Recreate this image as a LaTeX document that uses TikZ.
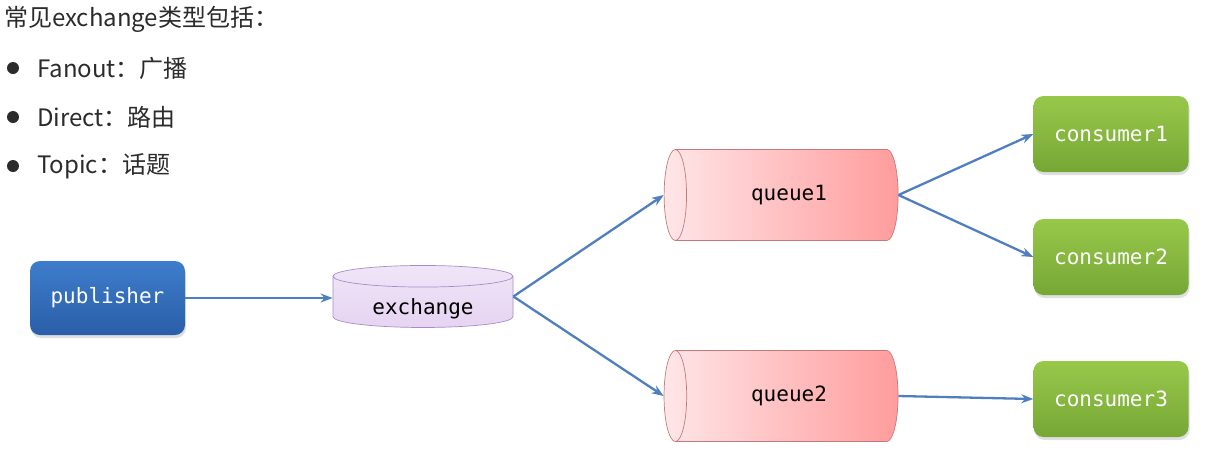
\documentclass[tikz,border=0pt]{standalone}
\usepackage{fontspec}
\newfontfamily\cjk{Noto Sans CJK SC}
\newfontfamily\codefont{DejaVu Sans Mono}
\usetikzlibrary{shapes.geometric,arrows.meta,shadows}

\definecolor{txt}{HTML}{2B2B2B}
\definecolor{flow}{HTML}{4F7FBF}
\definecolor{pubtop}{HTML}{3E7DCB}
\definecolor{pubbot}{HTML}{2A5EA8}
\definecolor{contop}{HTML}{98C84A}
\definecolor{conbot}{HTML}{76A735}
\definecolor{qleft}{HTML}{FFE6E8}
\definecolor{qright}{HTML}{FF9C9C}
\definecolor{qborder}{HTML}{C47A7A}
\definecolor{exfill}{HTML}{E6D4F2}
\definecolor{exborder}{HTML}{A88CC6}

\tikzset{
  codetext/.style={font=\codefont\fontsize{21}{24}\selectfont},
  box/.style={rectangle, rounded corners=10pt, minimum width=155pt,
    text=white, codetext,
    drop shadow={opacity=0.25, shadow xshift=1pt, shadow yshift=-3pt}},
  pubbox/.style={box, minimum height=74pt, top color=pubtop, bottom color=pubbot},
  conbox/.style={box, minimum height=76pt, top color=contop, bottom color=conbot},
  queue/.style={cylinder, shape border rotate=180, aspect=0.85,
    minimum height=234pt, minimum width=91pt, draw=qborder, line width=0.7pt,
    left color=qleft, right color=qright, text=black, codetext},
  exch/.style={cylinder, shape border rotate=90, aspect=0.2,
    minimum height=62pt, minimum width=180pt, draw=exborder, line width=0.7pt,
    top color=exfill!60!white, bottom color=exfill, text=black, codetext,
    text height=22pt, text depth=0pt},
  flowarrow/.style={draw=flow, line width=2.3pt, -{Stealth[length=12pt,width=9pt]}},
  bullet/.style={circle, fill=txt, inner sep=0pt, minimum size=12pt},
  listtext/.style={anchor=west, inner sep=0pt, text=txt, font=\cjk\fontsize{24}{28}\selectfont}
}

\begin{document}
\begin{tikzpicture}[x=1pt, y=-1pt]
  \useasboundingbox (0,0) rectangle (1207,459);

  % heading and list of exchange types
  \node[listtext] (title) at (4,19) {常见exchange类型包括：};
  \node[bullet] (b1) at (13,68) {};
  \node[bullet] (b2) at (13,117) {};
  \node[bullet] (b3) at (13,166) {};
  \node[listtext] (t1) at (37,68) {Fanout：广播};
  \node[listtext] (t2) at (37,117) {Direct：路由};
  \node[listtext] (t3) at (37,166) {Topic：话题};

  % nodes
  \node[pubbox] (pub) at (107.5,298) {publisher};
  \node[exch] (ex) at (423,303.5) {exchange};
  \node[queue] (q1) at (789,195) {queue1};
  \node[queue] (q2) at (789,396) {queue2};
  \node[conbox] (c1) at (1111,134) {consumer1};
  \node[conbox] (c2) at (1111,257) {consumer2};
  \node[conbox] (c3) at (1111,399) {consumer3};

  % message flow
  \draw[flowarrow] (pub.east) -- (pub.east -| ex.west);
  \draw[flowarrow] (ex.shape center -| ex.east) -- (q1.west);
  \draw[flowarrow] (ex.shape center -| ex.east) -- (q2.west);
  \draw[flowarrow] (q1.east) -- (c1.west);
  \draw[flowarrow] (q1.east) -- (c2.west);
  \draw[flowarrow] (q2.east) -- (c3.west);
\end{tikzpicture}
\end{document}
